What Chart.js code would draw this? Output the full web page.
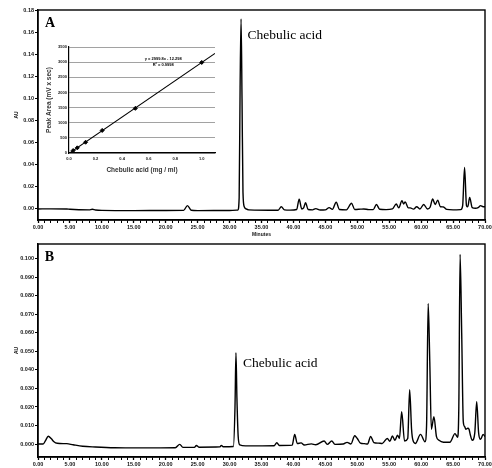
<!DOCTYPE html>
<html>
<head>
<meta charset="utf-8">
<script src="https://cdn.jsdelivr.net/npm/chart.js@4.4.1/dist/chart.umd.min.js"></script>
<style>
  body { margin: 0; background: #fff; }
  #wrap { position: relative; width: 492px; height: 468px; overflow: hidden; background: #fff; }
  canvas { position: absolute; }
</style>
</head>
<body>
<div id="wrap">
  <canvas id="chartA" width="492" height="240" style="left:0;top:0"></canvas>
  <canvas id="chartB" width="492" height="232" style="left:0;top:236px"></canvas>
  <canvas id="calib" width="180" height="140" style="left:40px;top:40px"></canvas>
</div>
<script>
// Chromatogram A: chebulic acid standard
const timeA = [0, 2, 4.5, 5, 8, 8.5, 9, 10, 15, 20, 22.8, 23.4, 24, 25, 30,
  31.3, 31.5, 31.65, 31.8, 31.95, 32.1, 32.3, 32.6, 33,
  37.6, 38.1, 38.6, 39.5, 40.5, 40.9, 41.3, 41.6, 41.9, 42.3, 43, 43.5, 44.2,
  45, 45.6, 46.1, 46.7, 47.2, 48.3, 49.1, 49.6, 50.5, 51, 51.8, 52.5, 53, 53.5,
  54.5, 55.5, 56.1, 56.5, 57, 57.25, 57.5, 58, 58.3, 58.8, 59.3, 59.8, 60.4,
  61, 61.4, 61.8, 62.2, 62.6, 63, 63.5, 64, 65, 66.2, 66.5, 66.8, 67.1, 67.3,
  67.6, 68, 68.5, 69, 69.3, 69.7, 70];
const absA = [0, 0.0001, 0, -0.0003, -0.0008, -0.0003, -0.0009, -0.0013, -0.0015, -0.0014, -0.0013, 0.003, -0.0012, -0.0015, -0.0014,
  -0.001, 0.01, 0.11, 0.172, 0.1, 0.015, 0.002, 0, -0.0008,
  -0.0012, 0.002, -0.0008, -0.0011, -0.0005, 0.0088, 0, 0.001, 0.0057, -0.0005, -0.0008, 0.0003, -0.001,
  -0.0008, 0.0012, -0.0004, 0.006, -0.0005, -0.0008, 0.0052, -0.0005, -0.0002, 0, -0.0006, -0.0006, 0.004, -0.0003,
  -0.0006, 0, 0.0045, 0.001, 0.0075, 0.0045, 0.0063, 0.001, 0.001, -0.0002, 0.002, 0, 0.004,
  0, 0.0015, 0.009, 0.004, 0.008, 0.002, 0.0018, -0.0004, -0.0008, -0.0006, 0.003, 0.0375, 0.003, 0.002,
  0.0103, 0.0012, 0.0006, 0.0015, 0.003, 0.002, 0.002];

// Chromatogram B: extract
const timeB = [0, 0.8, 1.2, 1.6, 2.1, 2.5, 3, 4.5, 5.5, 7, 9, 12, 16, 21.5, 22.2, 22.7,
  24.5, 24.8, 25.2, 28.5, 28.7, 29, 30.6, 30.85, 31, 31.15, 31.35, 31.6, 32.5,
  37, 37.4, 37.8, 39.8, 40.2, 40.6, 41.2, 41.7, 42.8, 43.5, 44.8, 45.3, 46, 46.5,
  47.8, 48.4, 49, 49.6, 50, 50.5, 51.1, 51.6, 52.1, 52.6, 53.3, 53.9, 54.7, 55.1,
  55.5, 55.9, 56.3, 56.6, 56.95, 57.4, 57.9, 58.2, 58.5, 58.7, 59.1, 59.9, 60.6,
  60.85, 61.1, 61.35, 61.6, 62, 62.4, 62.8, 63.5, 64.5, 65.3, 65.7, 65.9, 66.1,
  66.35, 66.6, 66.8, 67, 67.3, 67.5, 67.7, 68, 68.4, 68.7, 69, 69.3, 69.7, 70];
const absB = [0, 0, 0.002, 0.0042, 0.0028, 0.0012, 0.0004, 0.0002, -0.0004, -0.0012, -0.0016, -0.002, -0.0021, -0.002, -0.0002, -0.0018,
  -0.0018, -0.0008, -0.0017, -0.0015, -0.0007, -0.0015, -0.0013, 0.02, 0.0493, 0.025, 0.004, -0.0005, -0.001,
  -0.0009, 0.0007, -0.0008, -0.0006, 0.0052, 0.0003, 0.0006, -0.0005, 0.0001, -0.0004, 0.0016, -0.0002, 0.0016, -0.0002,
  0, 0.0009, 0, 0.0045, 0.003, 0.0005, 0.0002, 0, 0.0041, 0.0008, 0.0005, 0.0003, 0.003, 0.0015,
  0.0043, 0.002, 0.0048, 0.003, 0.0174, 0.0016, 0.003, 0.0293, 0.008, 0.0022, 0.0003, 0.0052, 0.0012,
  0.01, 0.0759, 0.045, 0.008, 0.0147, 0.004, 0.002, 0.001, 0.001, 0.0056, 0.0037, 0.02, 0.1024,
  0.06, 0.012, 0.0095, 0.008, 0.0085, 0.008, 0.005, 0.002, 0.006, 0.0228, 0.006, 0.0025, 0.0052, 0.004];

// Calibration curve
const concentration = [0.03125, 0.0625, 0.125, 0.25, 0.5, 1.0];
const peakArea = [80, 170, 355, 745, 1475, 2990];
const fitSlope = 2999.8;
const fitIntercept = -12.298;
const fitR2 = 0.9998;

// Tick labels
const minuteTicks = [0, 5, 10, 15, 20, 25, 30, 35, 40, 45, 50, 55, 60, 65, 70];
const auTicksA = [0, 0.02, 0.04, 0.06, 0.08, 0.10, 0.12, 0.14, 0.16, 0.18];
const auTicksB = [0, 0.01, 0.02, 0.03, 0.04, 0.05, 0.06, 0.07, 0.08, 0.09, 0.10];
const areaTicks = [0, 500, 1000, 1500, 2000, 2500, 3000, 3500];
const concTicks = [0, 0.2, 0.4, 0.6, 0.8, 1.0];

Chart.defaults.font.family = '"Liberation Sans", Arial, sans-serif';
Chart.defaults.color = '#151515';
Chart.defaults.animation = false;

const narrow = '"Liberation Sans Narrow", "Liberation Sans", Arial, sans-serif';
const tickFont = { family: narrow, size: 5.5, weight: 'bold' };

const toPoints = (xs, ys) => xs.map((x, i) => ({ x: x, y: ys[i] }));

// draws the box around the plot area
const framePlugin = {
  id: 'frame',
  afterDatasetsDraw(chart, args, opts) {
    if (!opts.show) return;
    const { ctx, chartArea: a } = chart;
    ctx.save();
    ctx.strokeStyle = '#000';
    ctx.lineWidth = 1.4;
    ctx.strokeRect(a.left, a.top, a.right - a.left, a.bottom - a.top);
    ctx.restore();
  }
};

// text placed at data coordinates
const notesPlugin = {
  id: 'notes',
  afterDraw(chart, args, opts) {
    const items = opts.items || [];
    const { ctx, scales } = chart;
    ctx.save();
    items.forEach((n) => {
      ctx.font = n.font;
      ctx.fillStyle = n.color || '#000';
      ctx.textAlign = n.align || 'left';
      ctx.textBaseline = 'alphabetic';
      ctx.fillText(n.text, scales.x.getPixelForValue(n.x), scales.y.getPixelForValue(n.y));
    });
    ctx.restore();
  }
};

function chromatogram(id, times, values, opts) {
  return new Chart(document.getElementById(id), {
    type: 'line',
    data: {
      datasets: [{
        data: toPoints(times, values),
        borderColor: '#000',
        borderWidth: 1.4,
        pointRadius: 0,
        cubicInterpolationMode: 'monotone',
        fill: false,
      }],
    },
    options: {
      responsive: false,
      events: [],
      layout: { padding: { top: opts.padTop, right: 7, left: 0, bottom: 0 } },
      plugins: {
        legend: { display: false },
        tooltip: { enabled: false },
        frame: { show: true },
        notes: { items: opts.notes },
      },
      scales: {
        x: {
          type: 'linear',
          min: 0,
          max: 70,
          afterBuildTicks: (scale) => {
            const ticks = [];
            for (let m = 0; m <= 70; m++) ticks.push({ value: m });
            scale.ticks = ticks;
          },
          afterFit: (scale) => {
            scale.height = opts.xHeight;
            scale.paddingLeft = 0;
            scale.paddingRight = 0;
          },
          ticks: {
            autoSkip: false,
            maxRotation: 0,
            padding: 1.5,
            font: tickFont,
            callback: (v) => (minuteTicks.includes(v) ? v.toFixed(2) : ''),
          },
          grid: {
            drawOnChartArea: false,
            tickLength: 3,
            tickColor: '#000',
            tickWidth: (c) => (minuteTicks.includes(c.tick && c.tick.value) ? 1.3 : 1),
          },
          border: { display: true, color: '#000', width: 1.4 },
          title: {
            display: opts.showMinutes,
            text: 'Minutes',
            font: { family: narrow, size: 5, weight: 'bold' },
            padding: { top: 0, bottom: 2.5 },
          },
        },
        y: {
          min: opts.yMin,
          max: opts.yMax,
          afterBuildTicks: (scale) => {
            scale.ticks = opts.yTicks.map((v) => ({ value: v }));
          },
          afterFit: (scale) => { scale.width = 38; },
          ticks: {
            padding: 1,
            font: tickFont,
            callback: (v) => v.toFixed(opts.decimals),
          },
          grid: { drawOnChartArea: false, tickLength: 3, tickColor: '#000', tickWidth: 1.2 },
          border: { display: true, color: '#000', width: 1.4 },
          title: {
            display: true,
            text: 'AU',
            font: { family: narrow, size: 5, weight: 'bold' },
            padding: { top: 14, bottom: 0 },
          },
        },
      },
    },
    plugins: [framePlugin, notesPlugin],
  });
}

chromatogram('chartA', timeA, absA, {
  padTop: 10,
  xHeight: 20,
  showMinutes: true,
  yMin: -0.01,
  yMax: 0.18,
  yTicks: auTicksA,
  decimals: 2,
  notes: [
    { text: 'A', x: 1.1, y: 0.165, font: 'bold 14px "Liberation Serif"' },
    { text: 'Chebulic acid', x: 32.8, y: 0.1539, font: '13.5px "Liberation Serif"' },
  ],
});

chromatogram('chartB', timeB, absB, {
  padTop: 8,
  xHeight: 11,
  showMinutes: false,
  yMin: -0.007,
  yMax: 0.108,
  yTicks: auTicksB,
  decimals: 3,
  notes: [
    { text: 'B', x: 1.05, y: 0.0986, font: 'bold 14px "Liberation Serif"' },
    { text: 'Chebulic acid', x: 32.1, y: 0.0416, font: '13.5px "Liberation Serif"' },
  ],
});

// Inset: peak area against concentration with the linear fit
const fitEnds = [0, 1.1];
new Chart(document.getElementById('calib'), {
  type: 'scatter',
  data: {
    datasets: [
      {
        type: 'line',
        data: fitEnds.map((c) => ({ x: c, y: fitSlope * c + fitIntercept })),
        borderColor: '#000',
        borderWidth: 1.1,
        pointRadius: 0,
        fill: false,
      },
      {
        data: toPoints(concentration, peakArea),
        pointStyle: 'rectRot',
        pointRadius: 2,
        backgroundColor: '#000',
        borderColor: '#000',
      },
    ],
  },
  options: {
    responsive: false,
    events: [],
    layout: { padding: { top: 7, right: 4, left: 0, bottom: 0 } },
    plugins: {
      legend: { display: false },
      tooltip: { enabled: false },
      frame: { show: false },
      notes: {
        items: [
          { text: 'y = 2999.8x - 12.298', x: 0.71, y: 3080, font: 'bold 4px "Liberation Sans"', align: 'center' },
          { text: 'R\u00b2 = ' + fitR2, x: 0.71, y: 2860, font: 'bold 4px "Liberation Sans"', align: 'center' },
        ],
      },
    },
    scales: {
      x: {
        type: 'linear',
        min: 0,
        max: 1.1,
        afterBuildTicks: (scale) => { scale.ticks = concTicks.map((v) => ({ value: v })); },
        afterFit: (scale) => { scale.height = 27; scale.paddingLeft = 0; scale.paddingRight = 0; },
        ticks: { padding: 3, font: { size: 4, weight: 'bold' }, callback: (v) => v.toFixed(1) },
        grid: { display: false, drawTicks: false },
        border: { display: true, color: '#000', width: 1.2 },
        title: {
          display: true,
          text: 'Chebulic acid (mg / ml)',
          font: { size: 6.5, weight: 'bold' },
          color: '#333',
          padding: { top: 0, bottom: 6 },
        },
      },
      y: {
        min: 0,
        max: 3500,
        afterBuildTicks: (scale) => { scale.ticks = areaTicks.map((v) => ({ value: v })); },
        afterFit: (scale) => { scale.width = 29; },
        ticks: { padding: 2, font: { size: 4, weight: 'bold' }, callback: (v) => String(v) },
        grid: { drawTicks: false, color: '#8a8a8a', lineWidth: 0.8 },
        border: { display: true, color: '#000', width: 1.2 },
        title: {
          display: true,
          text: 'Peak Area (mV x sec)',
          font: { size: 6.5, weight: 'bold' },
          color: '#333',
          padding: { top: 5, bottom: 0 },
        },
      },
    },
  },
  plugins: [framePlugin, notesPlugin],
});
</script>
</body>
</html>
